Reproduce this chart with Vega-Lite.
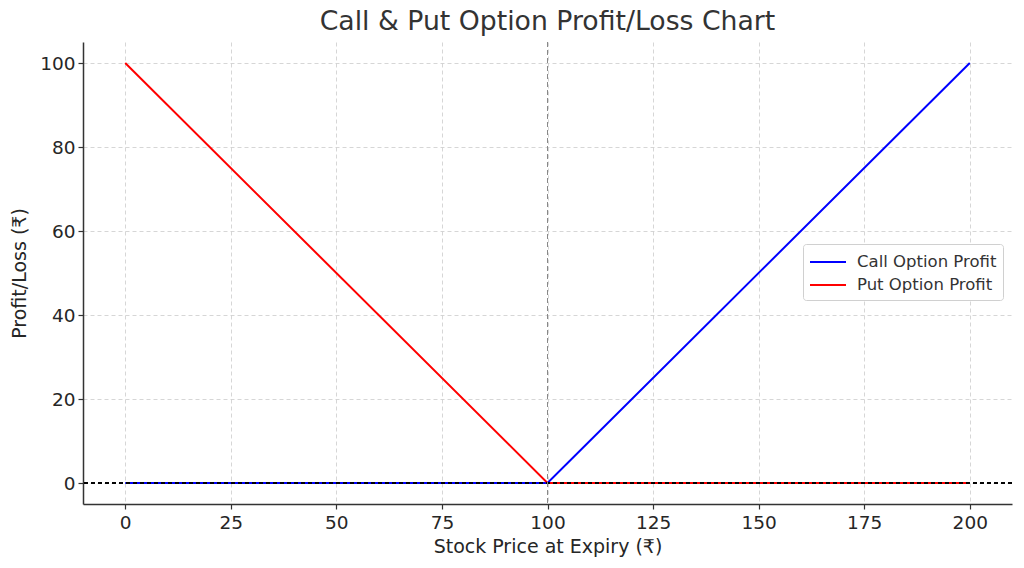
{
  "$schema": "https://vega.github.io/schema/vega-lite/v6.json",
  "autosize": {"type": "none"},
  "width": 929,
  "height": 462,
  "padding": {"left": 83, "top": 42, "right": 12, "bottom": 64},
  "background": "white",
  "config": {
    "font": "DejaVu Sans",
    "view": {"stroke": null},
    "axis": {
      "labelFont": "DejaVu Sans",
      "titleFont": "DejaVu Sans",
      "labelFontSize": 18.5,
      "titleFontSize": 19,
      "labelColor": "#262626",
      "titleColor": "#262626",
      "titleFontWeight": "normal",
      "domainColor": "#333333",
      "domainWidth": 1.5,
      "tickColor": "#333333",
      "tickSize": 5,
      "tickWidth": 1.2,
      "gridColor": "#cccccc",
      "gridDash": [4, 3],
      "gridWidth": 0.8
    }
  },
  "title": {
    "text": "Call & Put Option Profit/Loss Chart",
    "fontSize": 26.7,
    "font": "DejaVu Sans",
    "fontWeight": "normal",
    "color": "#333333",
    "anchor": "middle",
    "offset": 6
  },
  "data": {
    "values": [
      {"price": 0, "profit": 0, "series": "Call Option Profit"},
      {"price": 100, "profit": 0, "series": "Call Option Profit"},
      {"price": 200, "profit": 100, "series": "Call Option Profit"},
      {"price": 0, "profit": 100, "series": "Put Option Profit"},
      {"price": 100, "profit": 0, "series": "Put Option Profit"},
      {"price": 200, "profit": 0, "series": "Put Option Profit"}
    ]
  },
  "layer": [
    {
      "mark": {"type": "line", "strokeWidth": 2},
      "encoding": {
        "x": {
          "field": "price", "type": "quantitative",
          "scale": {"domain": [-10, 210], "nice": false, "zero": false},
          "axis": {"values": [0, 25, 50, 75, 100, 125, 150, 175, 200], "title": "Stock Price at Expiry (₹)", "titlePadding": 6, "labelPadding": 4}
        },
        "y": {
          "field": "profit", "type": "quantitative",
          "scale": {"domain": [-5, 105], "nice": false, "zero": false},
          "axis": {"values": [0, 20, 40, 60, 80, 100], "title": "Profit/Loss (₹)", "titlePadding": 10, "labelPadding": 3}
        },
        "color": {
          "field": "series", "type": "nominal",
          "scale": {"domain": ["Call Option Profit", "Put Option Profit"], "range": ["#0000ff", "#ff0000"]},
          "legend": {
            "title": null,
            "orient": "none",
            "legendX": 720,
            "legendY": 202,
            "symbolType": "M-1.6364,0H1.6364",
            "symbolStrokeWidth": 2,
            "symbolSize": 484,
            "symbolOffset": 7,
            "labelFontSize": 16.5,
            "labelFont": "DejaVu Sans",
            "labelColor": "#333333",
            "labelOffset": 17,
            "fillColor": "white",
            "strokeColor": "#d0d0d0",
            "cornerRadius": 3,
            "padding": 6,
            "rowPadding": 2
          }
        },
        "order": {"field": "price", "type": "quantitative"}
      }
    },
    {
      "mark": {"type": "rule", "color": "black", "strokeDash": [4, 3], "strokeWidth": 1},
      "encoding": {"y": {"datum": 0}}
    },
    {
      "mark": {"type": "rule", "color": "#888888", "strokeDash": [5, 3], "strokeWidth": 1},
      "encoding": {"x": {"datum": 100}}
    }
  ]
}
